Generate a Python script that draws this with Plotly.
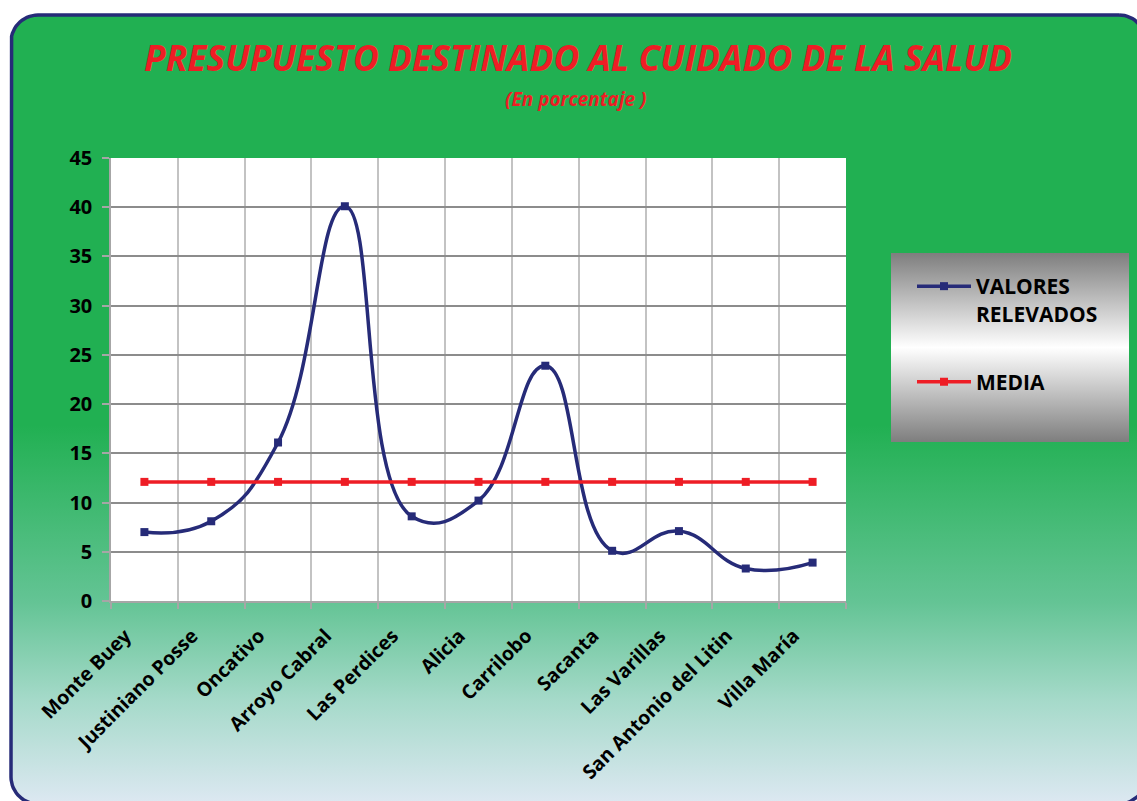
import numpy as np
import plotly.graph_objects as go

# ---- data -------------------------------------------------------------
localidades = [
    "Monte Buey", "Justiniano Posse", "Oncativo", "Arroyo Cabral",
    "Las Perdices", "Alicia", "Carrilobo", "Sacanta", "Las Varillas",
    "San Antonio del Litin", "Villa María",
]
valores_relevados = [7.0, 8.1, 16.1, 40.1, 8.6, 10.2, 23.9, 5.1, 7.1, 3.3, 3.9]
media = [12.1] * len(localidades)
y_ticks = [0, 5, 10, 15, 20, 25, 30, 35, 40, 45]

W, H = 1137, 801
NAVY = "#262B78"
RED = "#EE1D25"
FONT = "Open Sans"


def rounded_rect(x0, y0, x1, y1, r, n=16):
    """Polygon outline of a rounded rectangle (pixel coordinates, y down)."""
    pts = []
    corners = [
        (x1 - r, y0 + r, -np.pi / 2, 0),          # top right
        (x1 - r, y1 - r, 0, np.pi / 2),           # bottom right
        (x0 + r, y1 - r, np.pi / 2, np.pi),       # bottom left
        (x0 + r, y0 + r, np.pi, 1.5 * np.pi),     # top left
    ]
    for cx, cy, a0, a1 in corners:
        for a in np.linspace(a0, a1, n):
            pts.append((cx + r * np.cos(a), cy + r * np.sin(a)))
    pts.append(pts[0])
    xs, ys = zip(*pts)
    return list(xs), list(ys)


fig = go.Figure()

# ---- decorative background (full-figure pixel axes) --------------------
fx, fy = rounded_rect(11, 15, 1146, 804, 27)
fig.add_trace(go.Scatter(
    x=fx, y=fy, mode="lines", fill="toself",
    line=dict(color=NAVY, width=3.5),
    fillgradient=dict(
        type="vertical", start=15, stop=804,
        colorscale=[[0, "#21B052"], [0.52, "#21B052"], [0.745, "#64C495"],
                    [0.87, "#A6DACA"], [1, "#DDE8F2"]],
    ),
    xaxis="x", yaxis="y", showlegend=False, hoverinfo="skip",
))

# legend panel with grey metallic gradient
lx0, ly0, lx1, ly1 = 891, 253, 1129, 442
fig.add_trace(go.Scatter(
    x=[lx0, lx1, lx1, lx0, lx0], y=[ly0, ly0, ly1, ly1, ly0],
    mode="lines", fill="toself", line=dict(width=0),
    fillgradient=dict(
        type="vertical", start=ly0, stop=ly1,
        colorscale=[[0, "#7E7E7E"], [0.5, "#FFFFFF"], [1, "#7E7E7E"]],
    ),
    xaxis="x", yaxis="y", showlegend=False, hoverinfo="skip",
))

# ---- data series -------------------------------------------------------
fig.add_trace(go.Scatter(
    x=localidades, y=valores_relevados, name="VALORES<br>RELEVADOS",
    mode="lines+markers", line=dict(color=NAVY, width=3.5, shape="spline", smoothing=1.3),
    marker=dict(symbol="square", size=8, color=NAVY),
    xaxis="x2", yaxis="y2", legendgroup="a",
))
fig.add_trace(go.Scatter(
    x=localidades, y=media, name="MEDIA",
    mode="lines+markers", line=dict(color=RED, width=3.5),
    marker=dict(symbol="square", size=8, color=RED),
    xaxis="x2", yaxis="y2", legendgroup="b",
))

# ---- titles ------------------------------------------------------------
fig.add_annotation(
    text="PRESUPUESTO DESTINADO AL CUIDADO DE LA SALUD",
    xref="paper", yref="paper", x=578 / W, y=1 - 57 / H,
    xanchor="center", yanchor="middle", showarrow=False,
    font=dict(family=FONT, size=35.5, color=RED, weight="bold", style="italic"),
)
fig.add_annotation(
    text="(En porcentaje )",
    xref="paper", yref="paper", x=576 / W, y=1 - 99 / H,
    xanchor="center", yanchor="middle", showarrow=False,
    font=dict(family=FONT, size=19, color=RED, weight="bold", style="italic"),
)

fig.update_layout(
    width=W, height=H,
    margin=dict(l=0, r=0, t=0, b=0, autoexpand=False),
    paper_bgcolor="white", plot_bgcolor="white",
    font=dict(family=FONT, color="black"),
    xaxis=dict(domain=[0, 1], range=[0, W], visible=False, fixedrange=True),
    yaxis=dict(domain=[0, 1], range=[H, 0], visible=False, fixedrange=True),
    xaxis2=dict(
        domain=[111 / W, 846 / W], anchor="y2", type="category",
        range=[-0.5, len(localidades) - 0.5],
        tickson="boundaries", showgrid=True, gridcolor="#C3C3C3", gridwidth=1.5,
        ticks="outside", ticklen=6, tickcolor="#A6A6A6", tickwidth=1.5,
        showline=True, linecolor="#A6A6A6", linewidth=1.5,
        ticklabelstandoff=14, ticklabelshift=-19,
        tickangle=-45, tickfont=dict(family=FONT, size=19.5, weight="bold", color="black"),
    ),
    yaxis2=dict(
        domain=[1 - 601 / H, 1 - 158 / H], anchor="x2", range=[0, 45],
        tickvals=y_ticks, showgrid=True, gridcolor="#8C8C8C", gridwidth=1.5,
        ticks="outside", ticklen=7, tickcolor="#A6A6A6", tickwidth=1.5,
        showline=True, linecolor="#A6A6A6", linewidth=1.5, zeroline=False,
        ticklabelstandoff=6,
        tickfont=dict(family=FONT, size=20, weight="bold", color="black"),
    ),
    legend=dict(
        x=912 / W, y=1 - 266 / H, xanchor="left", yanchor="top",
        bgcolor="rgba(0,0,0,0)", borderwidth=0, valign="top",
        itemwidth=54, tracegroupgap=38,
        font=dict(family=FONT, size=21, weight="bold", color="black"),
    ),
    showlegend=True,
)

fig.write_html("out.html")
